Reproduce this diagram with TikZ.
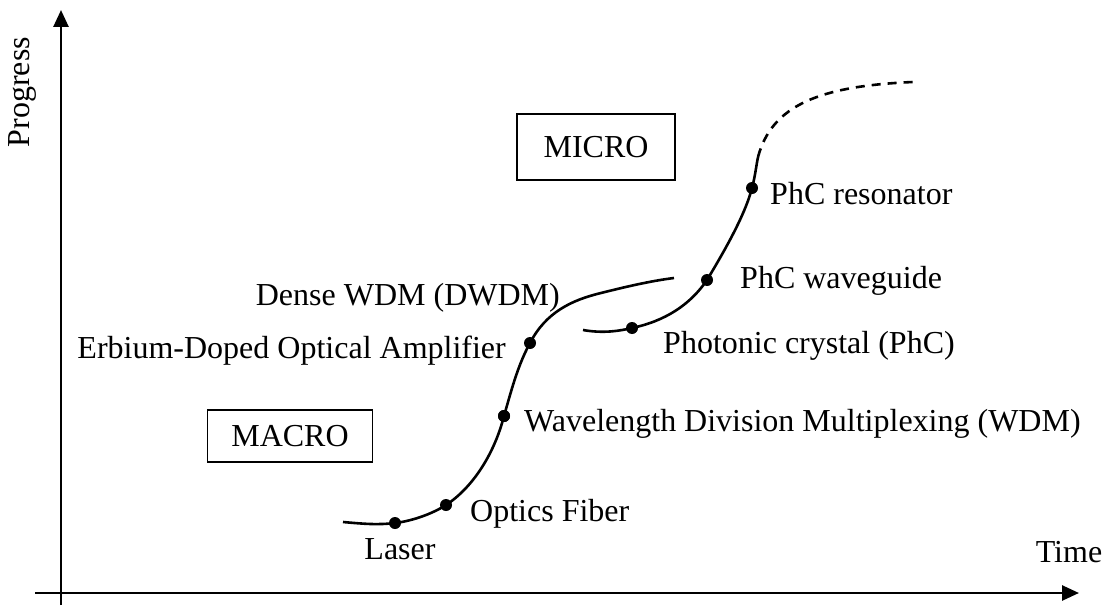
\documentclass[tikz,border=0pt]{standalone}
\usepackage{fontspec}
\setmainfont{Liberation Serif}
\usetikzlibrary{arrows.meta}
\tikzset{
  lbl/.style={font=\fontsize{32}{38}\selectfont, inner sep=0pt},
  regionbox/.style={draw, line width=1.6pt, font=\fontsize{32}{38}\selectfont, inner sep=0pt},
  axis/.style={line width=2.6pt, -{Triangle[length=17pt,width=15pt]}},
  curve/.style={line width=2.6pt},
  dot/.style={circle, fill, inner sep=0pt, minimum size=12pt}
}
\begin{document}
\begin{tikzpicture}[x=1pt,y=-1pt]
\useasboundingbox (0,0) rectangle (1107,615);
% axes
\coordinate (yb) at (61,605);
\coordinate (yt) at (61,10);
\coordinate (xl) at (35,593);
\coordinate (xr) at (1079,593);
\draw[axis] (yb) -- (yt);
\draw[axis] (xl) -- (xr);
\node[lbl, rotate=90] (prog) at (22,92) {Progress};
\node[lbl] (time) at (1069,552) {Time};
% boxes
\node[regionbox, minimum width=158pt, minimum height=66pt] (micro) at (596,147) {MICRO};
\node[regionbox, minimum width=165pt, minimum height=52pt] (macro) at (290,436) {MACRO};
% curve 1
\coordinate (c1s) at (343,522);
\coordinate (laser) at (395,523);
\coordinate (fiber) at (446,505);
\coordinate (wdm) at (504,416);
\coordinate (edfa) at (530,343);
\coordinate (dwdm) at (601,293);
\coordinate (c1e) at (674,278);
\draw[curve] (c1s) .. controls (365,524) and (378,525) .. (laser)
  .. controls (412,521) and (432,514) .. (fiber)
  .. controls (472,488) and (494,455) .. (wdm)
  .. controls (512,388) and (518,365) .. (edfa)
  .. controls (546,312) and (572,300) .. (dwdm)
  .. controls (625,287) and (650,281) .. (c1e);
% curve 2
\coordinate (c2s) at (583,330);
\coordinate (phc) at (632,328);
\coordinate (wg) at (707,280);
\coordinate (res) at (752,188);
\coordinate (c2e) at (758,157);
\coordinate (c2f) at (913,82);
\draw[curve] (c2s) .. controls (600,333) and (615,332) .. (phc)
  .. controls (665,321) and (690,305) .. (wg)
  .. controls (725,250) and (745,215) .. (res)
  .. controls (755,177) and (756,167) .. (c2e);
\draw[curve, dash pattern=on 9pt off 7pt] (c2e) .. controls (772,105) and (820,86) .. (c2f);
% dots
\foreach \p in {laser,fiber,wdm,edfa,dwdm,phc,wg,res}
  \node[dot] (d\p) at (\p) {};
% labels
\node[lbl] (tlaser) at (400,549) {Laser};
\node[lbl, anchor=west] (tfiber) at (470,514) {Optics Fiber};
\node[lbl, anchor=west] (twdm) at (524,424) {Wavelength Division Multiplexing (WDM)};
\node[lbl, anchor=east] (tedfa) at (506,351) {Erbium-Doped Optical Amplifier};
\node[lbl, anchor=east] (tdwdm) at (560,298) {Dense WDM (DWDM)};
\node[lbl, anchor=west] (tphc) at (663,346) {Photonic crystal (PhC)};
\node[lbl, anchor=west] (twg) at (740,281) {PhC waveguide};
\node[lbl, anchor=west] (tres) at (770,194) {PhC resonator};
\end{tikzpicture}
\end{document}
